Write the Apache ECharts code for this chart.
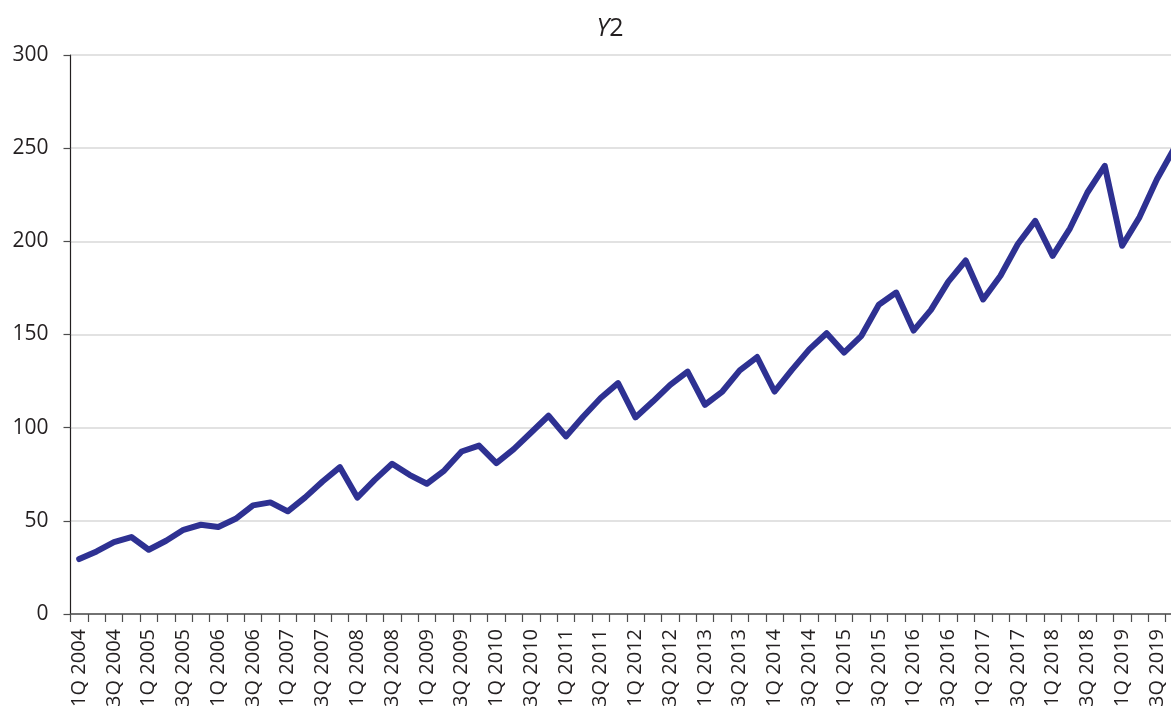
<!DOCTYPE html>
<html>
<head>
<meta charset="utf-8">
<script src="https://cdn.jsdelivr.net/npm/echarts@6/dist/echarts.min.js"></script>
<style>
html,body{margin:0;padding:0;background:#fff;overflow:hidden;}
#chart{width:1190px;height:711px;}
</style>
</head>
<body>
<div id="chart"></div>
<script>
const years = [];
for (let y = 2004; y <= 2019; y++) years.push(y);
const quarters = ['1Q','2Q','3Q','4Q'];
const categories = [];
years.forEach(y => quarters.forEach(q => categories.push(q + ' ' + y)));

const seriesY2 = [
  29.5, 33.6, 38.6, 41.3, 34.5, 39.3, 45.2, 47.9,
  46.7, 51.1, 58.3, 59.9, 55.1, 62.6, 71.1, 78.8,
  62.5, 72.0, 80.6, 74.7, 69.9, 77.0, 87.2, 90.4,
  81.0, 88.5, 97.4, 106.4, 95.3, 106.0, 115.9, 123.9,
  105.5, 114.0, 123.0, 130.1, 112.3, 119.4, 130.7, 137.9,
  119.4, 131.0, 142.0, 150.7, 140.3, 149.3, 166.0, 172.5,
  152.1, 163.2, 178.4, 189.7, 168.8, 181.5, 198.6, 211.0,
  192.2, 207.0, 226.2, 240.5, 197.6, 213.0, 233.3, 250.0
];
const yTicks = { min: 0, max: 300, interval: 50 };
const titleVar = 'Y';
const titleSub = '2';

const chart = echarts.init(document.getElementById('chart'));
chart.setOption({
  backgroundColor: '#ffffff',
  animation: false,
  title: {
    text: '{i|' + titleVar + '}{n|' + titleSub + '}',
    left: 605, top: 11,
    textAlign: 'center',
    textStyle: {
      fontWeight: 'normal',
      rich: {
        i: { fontFamily: 'Open Sans', fontStyle: 'italic', fontWeight: 'normal', fontSize: 25, color: '#231f20' },
        n: { fontFamily: 'Open Sans', fontStyle: 'normal', fontWeight: 'normal', fontSize: 25, color: '#231f20' }
      }
    }
  },
  grid: { left: 70.5, right: 7, top: 55, bottom: 97, containLabel: false },
  xAxis: {
    type: 'category',
    data: categories,
    boundaryGap: true,
    axisLine: { show: true, lineStyle: { color: '#4d4d4d', width: 1.5 } },
    axisTick: { show: true, interval: 0, length: 8, lineStyle: { color: '#4d4d4d', width: 1.2 } },
    axisLabel: { interval: 1, rotate: 90, margin: 15, fontFamily: 'Open Sans', fontSize: 20, color: '#231f20' },
    splitLine: { show: false }
  },
  yAxis: {
    type: 'value',
    min: yTicks.min, max: yTicks.max, interval: yTicks.interval,
    axisLine: { show: true, lineStyle: { color: '#231f20', width: 1.2 } },
    axisTick: { show: true, inside: false, length: 7, lineStyle: { color: '#4d4d4d', width: 1.2 } },
    axisLabel: { margin: 22, fontFamily: 'Open Sans', fontSize: 21, color: '#231f20' },
    splitLine: { show: true, lineStyle: { color: '#d9d9d9', width: 1.5 } }
  },
  series: [{
    type: 'line',
    data: seriesY2,
    symbol: 'none',
    lineStyle: { color: '#2e3192', width: 6, join: 'round', cap: 'round' },
    itemStyle: { color: '#2e3192' }
  }]
});
</script>
</body>
</html>
